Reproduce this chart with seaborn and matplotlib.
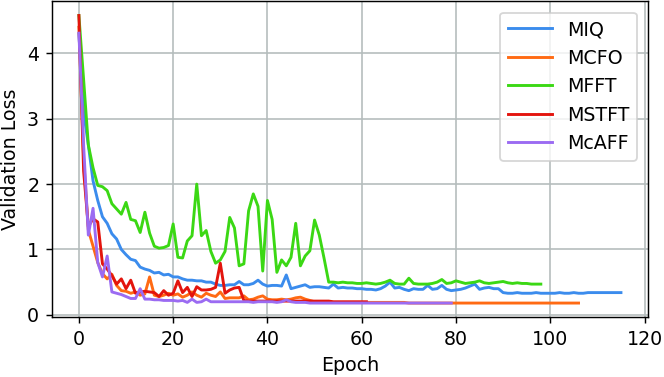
import matplotlib
matplotlib.use("Agg")
import matplotlib.pyplot as plt
import seaborn as sns
import pandas as pd

# validation loss per epoch
miq = [4.3, 3.1, 2.6, 2.05, 1.75, 1.5, 1.4, 1.24, 1.16, 1.0,
       0.92, 0.85, 0.83, 0.73, 0.7, 0.68, 0.64, 0.65, 0.61, 0.62,
       0.58, 0.58, 0.55, 0.53, 0.53, 0.52, 0.52, 0.5, 0.5, 0.47,
       0.45, 0.45, 0.46, 0.46, 0.51, 0.46, 0.46, 0.48, 0.53, 0.47,
       0.44, 0.45, 0.45, 0.44, 0.61, 0.4, 0.42, 0.44, 0.46, 0.42,
       0.43, 0.43, 0.42, 0.41, 0.47, 0.41, 0.42, 0.41, 0.41, 0.4,
       0.4, 0.39, 0.39, 0.38, 0.4, 0.44, 0.5, 0.41, 0.42, 0.39,
       0.37, 0.4, 0.39, 0.39, 0.45, 0.39, 0.4, 0.45, 0.39, 0.37,
       0.38, 0.39, 0.41, 0.44, 0.47, 0.39, 0.41, 0.42, 0.4, 0.4,
       0.34, 0.33, 0.33, 0.34, 0.33, 0.33, 0.33, 0.34, 0.33, 0.33,
       0.33, 0.33, 0.34, 0.33, 0.33, 0.34, 0.33, 0.33, 0.34, 0.34,
       0.34, 0.34, 0.34, 0.34, 0.34, 0.34]

mcfo = [4.4, 2.4, 1.3, 1.05, 0.8, 0.63, 0.55, 0.62, 0.45, 0.37,
        0.36, 0.33, 0.35, 0.3, 0.32, 0.58, 0.3, 0.28, 0.3, 0.33,
        0.3, 0.32, 0.27, 0.3, 0.35, 0.3, 0.27, 0.33, 0.3, 0.28,
        0.35, 0.25, 0.26, 0.26, 0.26, 0.29, 0.23, 0.24, 0.27, 0.29,
        0.24, 0.23, 0.23, 0.24, 0.23, 0.24, 0.26, 0.27, 0.24, 0.22,
        0.2, 0.2, 0.19, 0.19, 0.19, 0.19, 0.19, 0.19, 0.19, 0.19,
        0.19, 0.19, 0.19, 0.19, 0.19, 0.19, 0.19, 0.19, 0.19, 0.19,
        0.18, 0.18, 0.18, 0.18, 0.18, 0.18, 0.18, 0.18, 0.18, 0.18,
        0.18, 0.18, 0.18, 0.18, 0.18, 0.18, 0.18, 0.18, 0.18, 0.18,
        0.18, 0.18, 0.18, 0.18, 0.18, 0.18, 0.18, 0.18, 0.18, 0.18,
        0.18, 0.18, 0.18, 0.18, 0.18, 0.18, 0.18]

mfft = [4.58, 3.6, 2.6, 2.25, 1.98, 1.96, 1.9, 1.7, 1.62, 1.54,
        1.72, 1.46, 1.44, 1.26, 1.57, 1.25, 1.05, 1.02, 1.03, 1.06,
        1.39, 0.88, 0.87, 1.13, 1.21, 2.0, 1.21, 1.29, 0.97, 0.79,
        0.84, 0.97, 1.49, 1.33, 0.75, 0.78, 1.59, 1.85, 1.66, 0.67,
        1.75, 1.46, 0.65, 0.84, 0.75, 0.88, 1.4, 0.75, 0.9, 0.98,
        1.45, 1.22, 0.87, 0.5, 0.5, 0.49, 0.5, 0.49, 0.49, 0.48,
        0.48, 0.49, 0.48, 0.47, 0.48, 0.5, 0.53, 0.48, 0.47, 0.47,
        0.56, 0.48, 0.47, 0.47, 0.47, 0.48, 0.5, 0.54, 0.48, 0.49,
        0.52, 0.5, 0.48, 0.49, 0.5, 0.52, 0.49, 0.48, 0.49, 0.5,
        0.51, 0.49, 0.48, 0.49, 0.48, 0.48, 0.47, 0.47, 0.47]

mstft = [4.58, 2.2, 1.35, 1.47, 1.42, 0.78, 0.7, 0.6, 0.47, 0.55,
         0.4, 0.53, 0.33, 0.35, 0.36, 0.35, 0.34, 0.28, 0.37, 0.3,
         0.33, 0.52, 0.34, 0.42, 0.28, 0.43, 0.38, 0.38, 0.39, 0.42,
         0.79, 0.33, 0.38, 0.41, 0.42, 0.22, 0.21, 0.21, 0.21, 0.21,
         0.21, 0.21, 0.21, 0.21, 0.21, 0.21, 0.21, 0.21, 0.21, 0.21,
         0.21, 0.21, 0.21, 0.21, 0.2, 0.2, 0.2, 0.2, 0.2, 0.2,
         0.2, 0.2]

mcaff = [4.31, 2.6, 1.22, 1.63, 0.8, 0.58, 0.9, 0.35, 0.33, 0.31,
         0.28, 0.25, 0.25, 0.4, 0.24, 0.24, 0.23, 0.23, 0.22, 0.22,
         0.22, 0.21, 0.22, 0.19, 0.24, 0.19, 0.2, 0.24, 0.2, 0.2,
         0.2, 0.2, 0.2, 0.2, 0.2, 0.2, 0.2, 0.19, 0.2, 0.2,
         0.2, 0.2, 0.19, 0.2, 0.23, 0.2, 0.19, 0.19, 0.19, 0.18,
         0.18, 0.18, 0.18, 0.18, 0.18, 0.18, 0.18, 0.18, 0.18, 0.18,
         0.18, 0.18, 0.18, 0.18, 0.18, 0.18, 0.18, 0.18, 0.18, 0.18,
         0.18, 0.18, 0.18, 0.18, 0.18, 0.18, 0.18, 0.18, 0.18, 0.18]

models = ["MIQ", "MCFO", "MFFT", "MSTFT", "McAFF"]
losses = [miq, mcfo, mfft, mstft, mcaff]
colors = ["#3b8ced", "#ff6a13", "#3bd814", "#e3140d", "#9b6bf2"]

df = pd.concat(
    [pd.DataFrame({"Epoch": range(len(v)), "Validation Loss": v, "Model": m})
     for m, v in zip(models, losses)],
    ignore_index=True,
)

plt.rcParams["font.size"] = 10.5

fig, ax = plt.subplots(figsize=(664 / 130, 377 / 130), dpi=130)
fig.subplots_adjust(left=0.078, right=0.976, bottom=0.158, top=0.997)

sns.lineplot(data=df, x="Epoch", y="Validation Loss", hue="Model",
             palette=dict(zip(models, colors)), linewidth=1.6, ax=ax)

ax.grid(True, color="#b4bcbc", linewidth=0.9)
ax.set_axisbelow(True)
ax.legend(loc="upper right", handlelength=2.3, borderaxespad=0.6)

fig.savefig("out.png", dpi=130)
